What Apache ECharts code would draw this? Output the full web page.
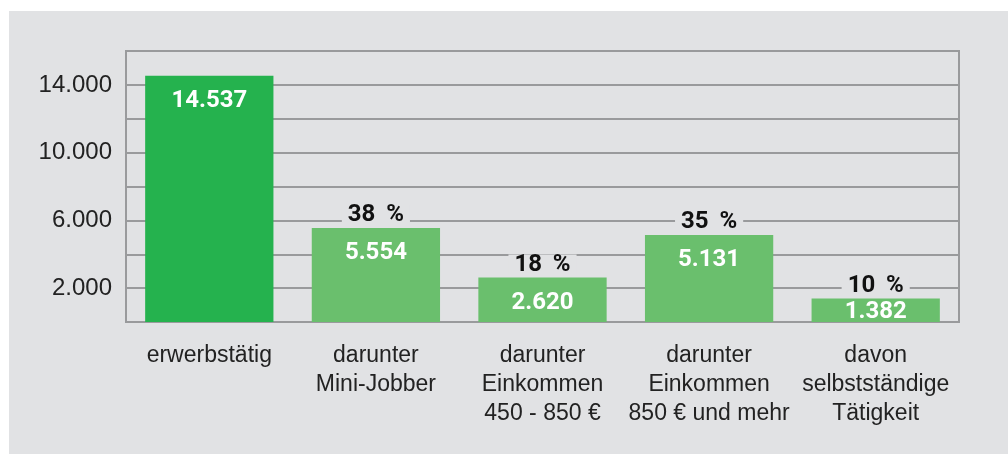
<!DOCTYPE html>
<html>
<head>
<meta charset="utf-8">
<script src="https://cdn.jsdelivr.net/npm/echarts@6/dist/echarts.min.js"></script>
<style>
  html, body { margin: 0; padding: 0; background: #fff; }
  #panel { position: absolute; left: 9px; top: 11px; width: 999px; height: 443px; background: #e1e2e4; }
  #chart { position: absolute; left: 0; top: 0; width: 1008px; height: 454px; }
</style>
</head>
<body>
<div id="panel"></div>
<div id="chart"></div>
<script>
// categories and values
var categories = [
  'erwerbstätig',
  'darunter\nMini-Jobber',
  'darunter\nEinkommen\n450 - 850 €',
  'darunter\nEinkommen\n850 € und mehr',
  'davon\nselbstständige\nTätigkeit'
];
var values = [14537, 5554, 2620, 5131, 1382];
var percents = [null, 38, 18, 35, 10];
var yTickLabels = [2000, 6000, 10000, 14000];

var mainGreen = '#25b24e';
var lightGreen = '#6abf6d';
var gridGray = '#999a9c';
var panelBg = '#e1e2e4';

function fmt(v) {
  return String(v).replace(/\B(?=(\d{3})+(?!\d))/g, '.');
}

var myChart = echarts.init(document.getElementById('chart'));

var barData = values.map(function (v, i) {
  var item = {
    value: v,
    itemStyle: { color: i === 0 ? mainGreen : lightGreen }
  };
  // short bar: label hugs the top edge
  if (v < 2000) {
    item.label = { distance: 1 };
  }
  return item;
});

var pctData = values.map(function (v, i) {
  return { value: v, pct: percents[i] };
});

myChart.setOption({
  animation: false,
  backgroundColor: 'transparent',
  grid: {
    left: 126,
    right: 49,
    top: 51,
    bottom: 132,
    show: true,
    borderColor: gridGray,
    borderWidth: 2,
    backgroundColor: 'transparent'
  },
  xAxis: {
    type: 'category',
    data: categories,
    axisLine: { show: true, lineStyle: { color: gridGray, width: 2 } },
    axisTick: { show: false },
    axisLabel: {
      margin: 19,
      color: '#222',
      fontFamily: 'Liberation Sans',
      fontSize: 23,
      lineHeight: 29,
      align: 'center',
      interval: 0
    }
  },
  yAxis: {
    type: 'value',
    min: 0,
    max: 16000,
    interval: 2000,
    axisLine: { show: true, lineStyle: { color: gridGray, width: 2 } },
    axisTick: { show: false },
    splitLine: { show: true, lineStyle: { color: gridGray, width: 2 } },
    axisLabel: {
      margin: 14,
      color: '#222',
      fontFamily: 'Liberation Sans',
      fontSize: 24,
      formatter: function (v) {
        return yTickLabels.indexOf(v) >= 0 ? fmt(v) : '';
      }
    }
  },
  series: [
    {
      type: 'bar',
      data: barData,
      barWidth: '77%',
      label: {
        show: true,
        position: 'insideTop',
        distance: 13,
        color: '#fff',
        fontFamily: 'Roboto',
        fontWeight: 'bold',
        fontSize: 24,
        formatter: function (p) { return fmt(p.value); }
      },
      z: 2
    },
    {
      type: 'bar',
      data: pctData,
      barWidth: '77%',
      barGap: '-100%',
      silent: true,
      itemStyle: { color: 'transparent' },
      label: {
        show: true,
        position: 'top',
        distance: 3,
        color: '#111',
        fontFamily: 'Roboto',
        fontWeight: 'bold',
        fontSize: 24,
        lineHeight: 20,
        backgroundColor: panelBg,
        padding: [0, 6, 0, 6],
        formatter: function (p) {
          return p.data.pct == null ? '' : p.data.pct + '\u2009 %';
        }
      },
      z: 3
    }
  ]
});
</script>
</body>
</html>
